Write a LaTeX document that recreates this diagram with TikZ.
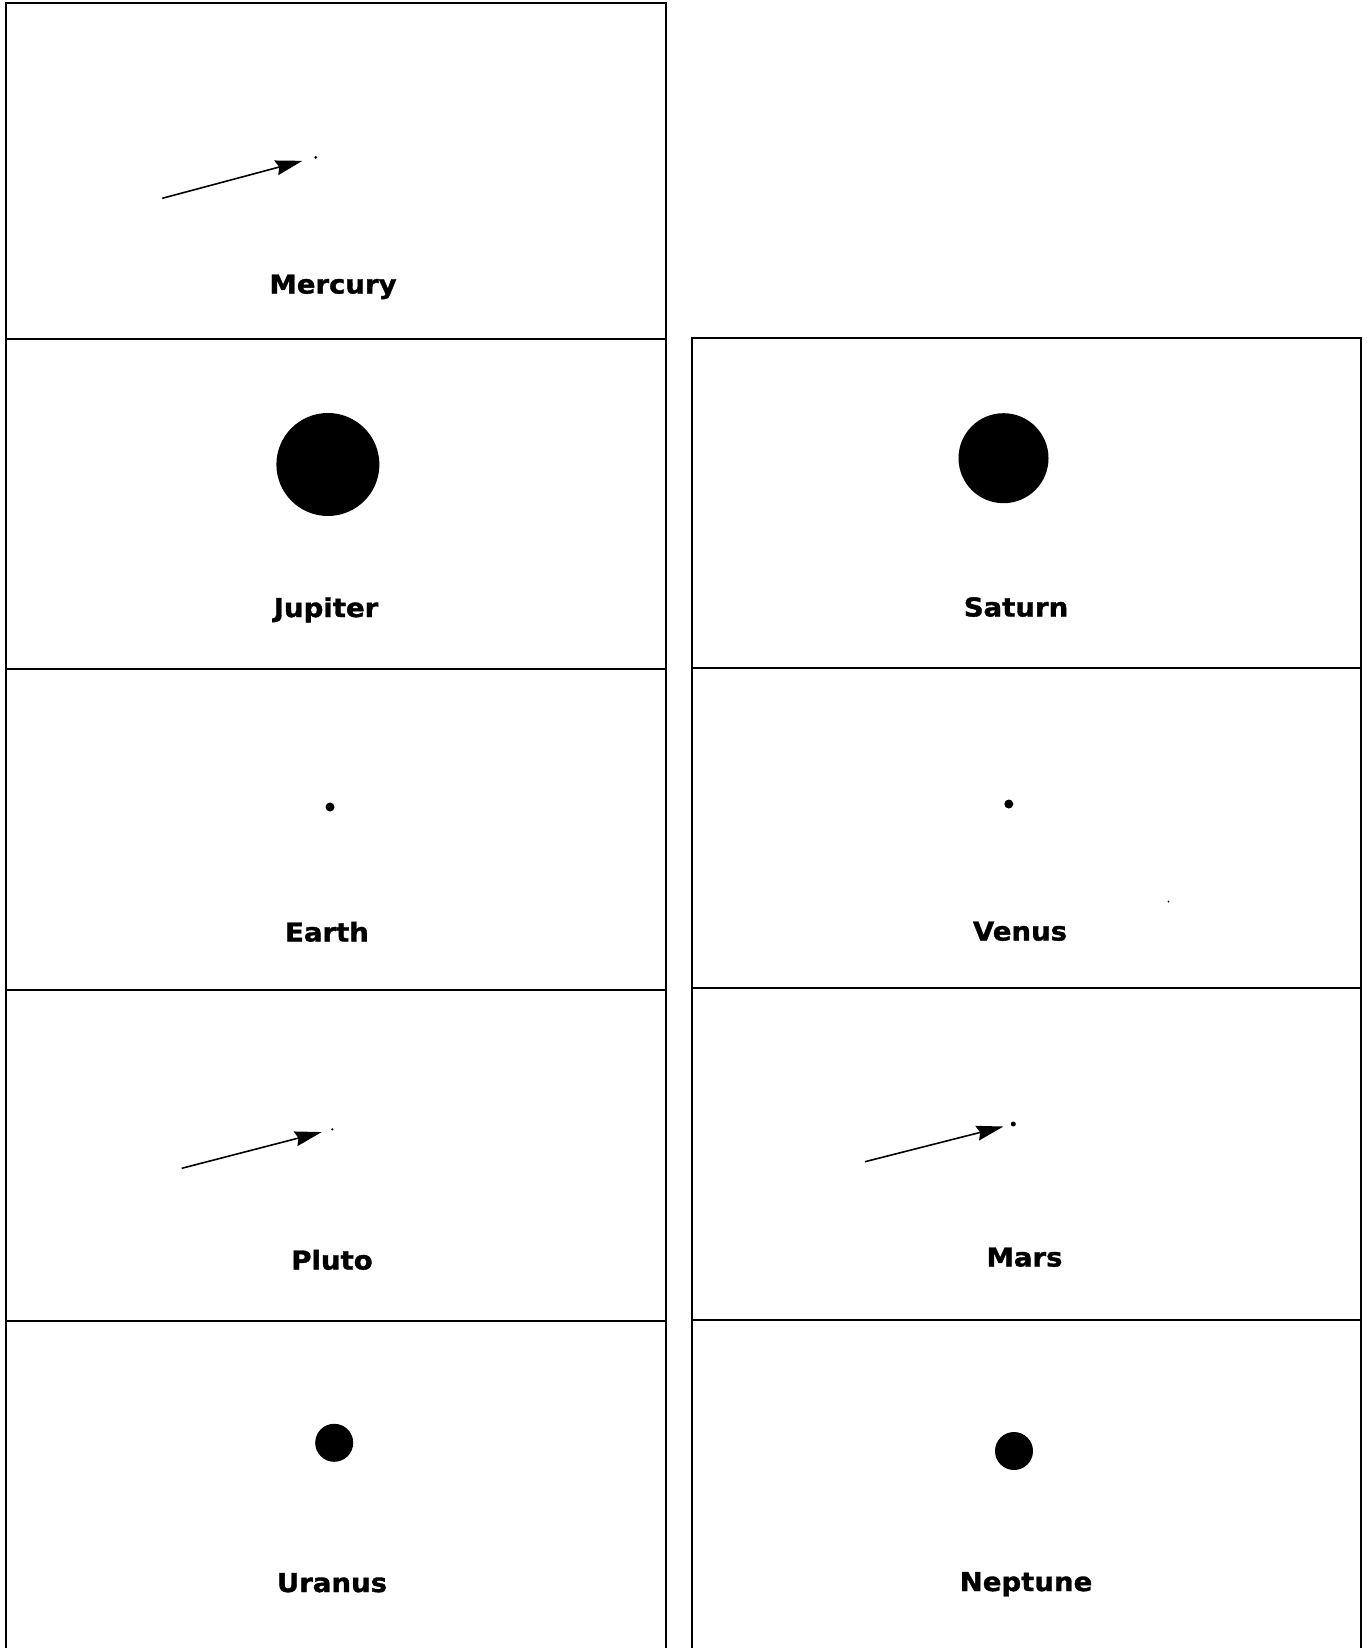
\documentclass[tikz,border=0pt]{standalone}
\usepackage{fontspec}
\newfontfamily\planetfont{DejaVu Sans}[FakeStretch=1.06,BoldFeatures={FakeBold=1.3}]
\usetikzlibrary{arrows.meta}

\begin{document}
\begin{tikzpicture}[x=1pt,y=-1pt,>={Stealth[length=27pt,width=15pt,inset=3pt]},
  panel/.style={line width=2.7pt},
  planet/.style={circle,fill=black,inner sep=0pt,minimum size=#1},
  pointer/.style={->,line width=1.6pt},
  planetname/.style={anchor=base,font=\planetfont\bfseries\fontsize{26}{30}\selectfont}]
  \useasboundingbox (0,0) rectangle (1366,1648);
  \clip (0,0) rectangle (1366,1648);
  % left column
  \draw[panel] (6,1660) -- (6,3) -- (666,3) -- (666,1660);
  \draw[panel] (6,339) -- (666,339);
  \draw[panel] (6,669) -- (666,669);
  \draw[panel] (6,990) -- (666,990);
  \draw[panel] (6,1321) -- (666,1321);
  % right column
  \draw[panel] (692,1660) -- (692,338) -- (1361,338) -- (1361,1660);
  \draw[panel] (692,668) -- (1361,668);
  \draw[panel] (692,988) -- (1361,988);
  \draw[panel] (692,1320) -- (1361,1320);

  \node[planet=3pt] (mercury) at (315.7,157.3) {};
  \coordinate (mercurytail) at (162.3,198.3);
  \draw[pointer,shorten >=12pt] (mercurytail) -- (mercury);
  \node[planetname] (mercurylbl) at (333,293.5) {Mercury};

  \node[planet=103pt] (jupiter) at (327.9,464.5) {};
  \node[planetname] (jupiterlbl) at (326,617) {Jupiter};

  \node[planet=9pt] (earth) at (330,807) {};
  \node[planetname] (earthlbl) at (327,941.5) {Earth};

  \node[planet=2.4pt] (pluto) at (332.3,1129.3) {};
  \coordinate (plutotail) at (181.7,1168.3);
  \draw[pointer,shorten >=9.5pt] (plutotail) -- (pluto);
  \node[planetname] (plutolbl) at (332,1269.5) {Pluto};

  \node[planet=38pt] (uranus) at (334.2,1442.8) {};
  \node[planetname] (uranuslbl) at (332,1592) {Uranus};

  \node[planet=90pt] (saturn) at (1003.5,458.2) {};
  \node[planetname] (saturnlbl) at (1016,616.5) {Saturn};

  \node[planet=9pt] (venus) at (1008.8,804) {};
  \node[planetname] (venuslbl) at (1020,940.5) {Venus};
  \fill (1168.5,901.6) circle (1);

  \node[planet=5pt] (mars) at (1013.3,1124) {};
  \coordinate (marstail) at (865,1161.7);
  \draw[pointer,shorten >=7.5pt] (marstail) -- (mars);
  \node[planetname] (marslbl) at (1024.5,1266.5) {Mars};

  \node[planet=38pt] (neptune) at (1014,1451) {};
  \node[planetname] (neptunelbl) at (1026,1591) {Neptune};
\end{tikzpicture}
\end{document}
